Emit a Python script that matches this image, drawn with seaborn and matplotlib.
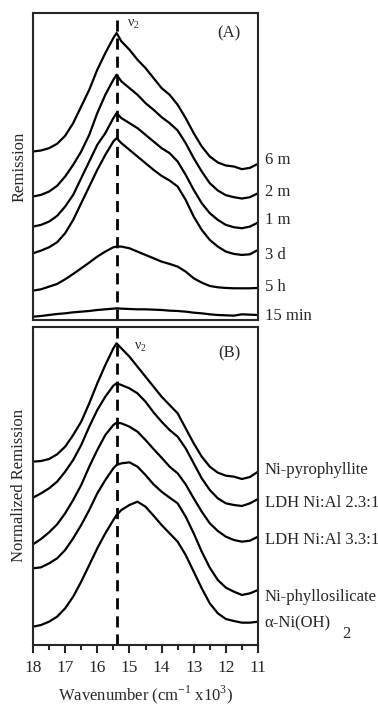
import numpy as np
import pandas as pd
import matplotlib
matplotlib.use("Agg")
import matplotlib.pyplot as plt
import seaborn as sns

# wavenumber grid (x10^3 cm^-1), shared by every curve
wn = [18, 17.75, 17.5, 17.25, 17, 16.75, 16.5, 16.25, 16, 15.75, 15.5, 15.4, 15.25, 15.0, 14.75,
      14.5, 14.25, 14.0, 13.75, 13.5, 13.25, 13.0, 12.75, 12.5, 12.25, 12.0, 11.75, 11.5, 11.25, 11.0]

# ---- panel (A): remission vs reaction time ----
a_6m = [5.05, 5.08, 5.15, 5.28, 5.52, 5.9, 6.4, 6.9, 7.5, 8.0, 8.45, 8.6, 8.35, 8.1, 7.8,
        7.55, 7.25, 6.95, 6.75, 6.45, 6.05, 5.6, 5.2, 4.9, 4.72, 4.63, 4.6, 4.52, 4.56, 4.68]
a_2m = [3.7, 3.75, 3.85, 4.02, 4.3, 4.65, 5.05, 5.55, 6.2, 6.75, 7.2, 7.35, 7.15, 6.95, 6.75,
        6.5, 6.3, 6.08, 5.9, 5.68, 5.3, 4.85, 4.45, 4.1, 3.88, 3.74, 3.68, 3.64, 3.68, 3.8]
a_1m = [2.8, 2.85, 2.95, 3.12, 3.4, 3.75, 4.25, 4.75, 5.25, 5.6, 6.05, 6.2, 6.05, 5.9, 5.75,
        5.55, 5.35, 5.15, 5.0, 4.75, 4.35, 3.9, 3.5, 3.2, 3.0, 2.85, 2.78, 2.75, 2.8, 2.92]
a_3d = [2.0, 2.08, 2.18, 2.33, 2.6, 3.0, 3.5, 4.0, 4.5, 4.95, 5.35, 5.45, 5.3, 5.1, 4.9,
        4.7, 4.5, 4.32, 4.18, 4.0, 3.6, 3.1, 2.7, 2.4, 2.2, 2.05, 1.98, 1.95, 1.97, 2.1]
a_5h = [0.88, 0.92, 1.0, 1.08, 1.22, 1.38, 1.55, 1.72, 1.9, 2.05, 2.18, 2.2, 2.2, 2.15, 2.05,
        1.95, 1.85, 1.75, 1.68, 1.6, 1.45, 1.25, 1.12, 1.02, 0.98, 0.96, 0.95, 0.95, 0.95, 0.96]
a_15 = [0.1, 0.12, 0.15, 0.18, 0.2, 0.23, 0.25, 0.27, 0.3, 0.32, 0.34, 0.35, 0.34, 0.33, 0.32,
        0.32, 0.31, 0.3, 0.28, 0.27, 0.25, 0.22, 0.2, 0.17, 0.15, 0.14, 0.13, 0.17, 0.16, 0.15]
labels_a = ["6 m", "2 m", "1 m", "3 d", "5 h", "15 min"]
label_y_a = [4.8, 3.85, 3.0, 1.95, 1.0, 0.12]

# ---- panel (B): reference compounds ----
b_pyro = [5.5, 5.52, 5.58, 5.72, 5.95, 6.3, 6.7, 7.25, 7.85, 8.4, 8.9, 9.05, 8.9, 8.65, 8.35,
          8.05, 7.75, 7.45, 7.2, 6.95, 6.5, 6.05, 5.65, 5.35, 5.17, 5.08, 5.05, 4.98, 5.04, 5.2]
b_ldh23 = [4.42, 4.55, 4.7, 4.9, 5.2, 5.55, 6.0, 6.55, 7.05, 7.45, 7.78, 7.85, 7.8, 7.7, 7.55,
           7.3, 6.98, 6.7, 6.45, 6.25, 5.9, 5.45, 5.0, 4.65, 4.4, 4.25, 4.2, 4.17, 4.25, 4.38]
b_ldh33 = [3.02, 3.18, 3.38, 3.62, 3.95, 4.35, 4.8, 5.35, 5.85, 6.3, 6.6, 6.67, 6.65, 6.55, 6.4,
           6.15, 5.88, 5.62, 5.35, 5.15, 4.82, 4.4, 4.0, 3.65, 3.42, 3.25, 3.15, 3.1, 3.13, 3.25]
b_phyl = [2.3, 2.33, 2.45, 2.6, 2.85, 3.2, 3.6, 4.05, 4.55, 4.95, 5.3, 5.4, 5.45, 5.48, 5.35,
          5.1, 4.82, 4.6, 4.42, 4.25, 3.85, 3.35, 2.8, 2.32, 1.95, 1.72, 1.6, 1.5, 1.55, 1.65]
b_aoh = [0.55, 0.6, 0.7, 0.85, 1.1, 1.45, 1.9, 2.4, 2.9, 3.35, 3.75, 3.9, 4.05, 4.2, 4.3,
         4.15, 3.88, 3.6, 3.35, 3.1, 2.7, 2.2, 1.7, 1.25, 0.95, 0.78, 0.72, 0.67, 0.67, 0.7]
labels_b = ["Ni-pyrophyllite", "LDH Ni:Al 2.3:1", "LDH Ni:Al 3.3:1", "Ni-phyllosilicate", "α-Ni(OH)"]
label_y_b = [5.25, 4.26, 3.15, 1.44, 0.66]

nu2 = 15.4


def long_frame(names, series):
    rows = []
    for name, ys in zip(names, series):
        for x, y in zip(wn, ys):
            rows.append({"wn": x, "val": y, "sample": name})
    return pd.DataFrame(rows)


df_a = long_frame(labels_a, [a_6m, a_2m, a_1m, a_3d, a_5h, a_15])
df_b = long_frame(labels_b, [b_pyro, b_ldh23, b_ldh33, b_phyl, b_aoh])

sns.set_style("ticks")
plt.rcParams['font.family'] = ['Liberation Serif', 'DejaVu Serif']

fig = plt.figure(figsize=(3.78, 7.07), dpi=100)
ax1 = fig.add_axes([33 / 378, 1 - 320 / 707, 225 / 378, 307 / 707])
ax2 = fig.add_axes([33 / 378, 1 - 645 / 707, 225 / 378, 318 / 707])

sns.lineplot(data=df_a, x="wn", y="val", hue="sample", palette={k: "black" for k in labels_a},
             estimator=None, sort=False, linewidth=1.6, legend=False, ax=ax1)
sns.lineplot(data=df_b, x="wn", y="val", hue="sample", palette={k: "black" for k in labels_b},
             estimator=None, sort=False, linewidth=1.6, legend=False, ax=ax2)

for ax, top in [(ax1, 9.2), (ax2, 9.54)]:
    ax.set_xlim(18, 11)
    ax.set_ylim(0, top)
    ax.axvline(nu2, color="black", linestyle=(0, (4, 2.5)), linewidth=2)
    ax.set_yticks([])
    for s in ax.spines.values():
        s.set_linewidth(1.5)
        s.set_visible(True)
    ax.set_xlabel("")

ax1.set_xticks([])
ax1.set_ylabel("Remission", fontsize=12, labelpad=4)
ax2.set_ylabel("Normalized Remission", fontsize=12, labelpad=4)

ax2.set_xticks(range(18, 10, -1))
ax2.set_xticks(np.arange(17.5, 11, -1), minor=True)
ax2.tick_params(axis="x", which="major", direction="out", length=6, width=1.5, labelsize=12.5, pad=5)
ax2.tick_params(axis="x", which="minor", direction="out", length=3.5, width=1.5)
ax2.set_xlabel("Wavenumber (cm$^{\\mathregular{-1}}$ x10$^{\\mathregular{3}}$)", fontsize=12, labelpad=5)

for lab, y in zip(labels_a, label_y_a):
    ax1.text(1.03, y, lab, transform=ax1.get_yaxis_transform(), fontsize=12, va="center", ha="left")
for lab, y in zip(labels_b, label_y_b):
    ax2.text(1.03, y, lab, transform=ax2.get_yaxis_transform(), fontsize=12, va="center", ha="left")
ax2.text(1.375, 0.33, "2", transform=ax2.get_yaxis_transform(), fontsize=12, va="center", ha="left")

ax1.text(15.08, 8.87, "ν$_{\\mathregular{2}}$", fontsize=10, va="center", ha="left")
ax2.text(14.85, 8.94, "ν$_{\\mathregular{2}}$", fontsize=10, va="center", ha="left")
ax1.text(11.9, 8.6, "(A)", fontsize=12, va="center", ha="center")
ax2.text(11.9, 8.76, "(B)", fontsize=12, va="center", ha="center")

fig.savefig("out.png", dpi=100)
